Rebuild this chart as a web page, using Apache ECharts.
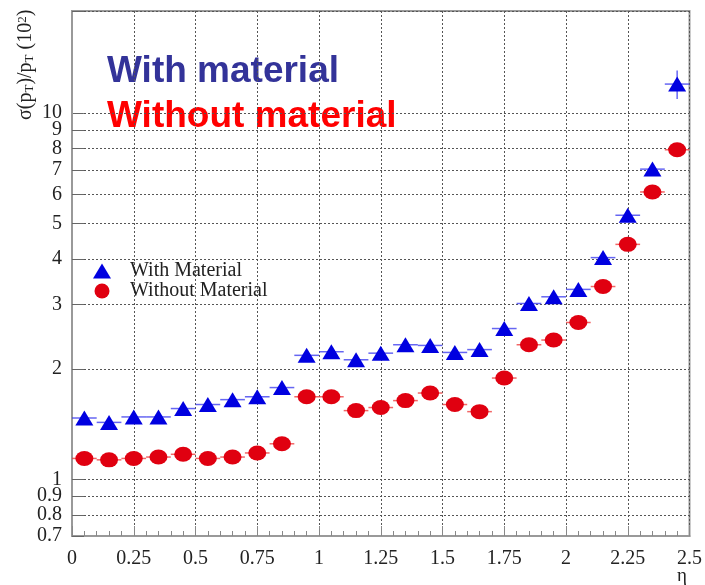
<!DOCTYPE html>
<html>
<head>
<meta charset="utf-8">
<script src="https://cdn.jsdelivr.net/npm/echarts@6/dist/echarts.min.js"></script>
<style>
  html, body { margin: 0; padding: 0; background: #fff; }
  #chart { width: 705px; height: 585px; }
</style>
</head>
<body>
<div id="chart"></div>
<script>
'use strict';

// eta bin centres
var eta = [0.05, 0.15, 0.25, 0.35, 0.45, 0.55, 0.65, 0.75, 0.85, 0.95, 1.05, 1.15, 1.25,
           1.35, 1.45, 1.55, 1.65, 1.75, 1.85, 1.95, 2.05, 2.15, 2.25, 2.35, 2.45];
var etaHalfWidth = 0.05;

// sigma(pT)/pT in units of 10^-2
var withMaterial = [1.47, 1.43, 1.48, 1.48, 1.56, 1.60, 1.65, 1.68, 1.78, 2.18, 2.23, 2.12, 2.21,
                    2.33, 2.32, 2.22, 2.26, 2.58, 3.02, 3.15, 3.30, 4.03, 5.26, 7.03, 12.0];
var withMaterialErr = [0, 0, 0, 0, 0, 0, 0, 0, 0, 0, 0, 0, 0,
                       0, 0, 0, 0, 0, 0, 0, 0, 0, 0, 0, 1.08];
var withoutMaterial = [1.14, 1.13, 1.14, 1.15, 1.17, 1.14, 1.15, 1.18, 1.25, 1.68, 1.68, 1.54, 1.57,
                       1.64, 1.72, 1.60, 1.53, 1.89, 2.33, 2.40, 2.68, 3.36, 4.38, 6.09, 7.94];
var withoutMaterialErr = [0, 0, 0, 0, 0, 0, 0, 0, 0, 0, 0, 0, 0,
                          0, 0, 0, 0, 0, 0, 0, 0, 0, 0, 0, 0];

var yMax = 19;
// the log axis drops the last custom value, so the axis max rides along at the end (no label)
var yTicks = [0.7, 0.8, 0.9, 1, 2, 3, 4, 5, 6, 7, 8, 9, yMax];
// 10 goes in as a markLine
var yTopTick = 10;

var BLUE = '#0000e0',
    RED = '#e00010',
    serif = 'Liberation Serif';

function pairs(ys, errs) {
    return eta.map(function (x, i) { return [x, ys[i], errs[i]]; });
}

// horizontal bin-width bars (and vertical error where there is one)
function errorBars(color) {
    return function (params, api) {
        var x = api.value(0), y = api.value(1), e = api.value(2);
        var l = api.coord([x - etaHalfWidth, y]),
            r = api.coord([x + etaHalfWidth, y]);
        var style = { stroke: color, lineWidth: 1.5, opacity: 0.75 };
        var children = [{ type: 'line', shape: { x1: l[0], y1: l[1], x2: r[0], y2: r[1] }, style: style }];
        if (e > 0) {
            var lo = api.coord([x, y - e]), hi = api.coord([x, y + e]);
            children.push({ type: 'line', shape: { x1: lo[0], y1: lo[1], x2: hi[0], y2: hi[1] }, style: style });
        }
        return { type: 'group', children: children };
    };
}

var chart = echarts.init(document.getElementById('chart'));

var gridLine = { show: true, lineStyle: { color: '#555', type: [2, 2], width: 1 } };
var axisLine = { show: true, lineStyle: { color: '#999', width: 2 } };

chart.setOption({
    animation: false,
    backgroundColor: '#fff',
    grid: {
        left: 72, right: 14, top: 11, bottom: 49,
        show: true, borderColor: '#999', borderWidth: 2
    },
    legend: {
        orient: 'vertical',
        left: 88, top: 256,
        itemWidth: 18, itemHeight: 15, itemGap: 0,
        textStyle: { fontFamily: serif, fontSize: 20, color: '#222', lineHeight: 18, padding: [0, 0, 0, 14] },
        data: ['With Material', 'Without Material']
    },
    xAxis: {
        type: 'value',
        min: 0, max: 2.5, interval: 0.25,
        axisLine: axisLine,
        axisTick: { inside: true, length: 10, lineStyle: { color: '#888', width: 1 } },
        minorTick: { show: true, splitNumber: 5, length: 5, lineStyle: { color: '#888' } },
        splitLine: gridLine,
        axisLabel: { fontFamily: serif, fontSize: 20, color: '#222', margin: 13 }
    },
    yAxis: {
        type: 'log',
        logBase: 10,
        min: 0.7, max: yMax,
        axisLine: axisLine,
        axisTick: { inside: true, length: 12, customValues: yTicks, lineStyle: { color: '#666', width: 1 } },
        splitLine: gridLine,
        axisLabel: {
            fontFamily: serif, fontSize: 20, lineHeight: 12, color: '#222', margin: 10,
            customValues: yTicks, hideOverlap: false,
            formatter: function (v) { return v > yTopTick ? '' : String(v); }
        }
    },
    graphic: [
        {
            type: 'text', left: 107, top: 53,
            style: { text: 'With material', fill: '#333399', font: 'bold 37px "Liberation Sans"' }
        },
        {
            type: 'text', left: 107, top: 98,
            style: { text: 'Without material', fill: '#ff0000', font: 'bold 37px "Liberation Sans"' }
        },
        {
            type: 'text', x: 16, y: 120, rotation: Math.PI / 2,
            style: {
                text: '{n|σ(p}{s|T}{n|)/p}{s|T}{n| (10}{u|2}{n|)}',
                fill: '#222',
                rich: {
                    n: { fontFamily: serif, fontSize: 20, verticalAlign: 'middle' },
                    s: { fontFamily: serif, fontSize: 13, verticalAlign: 'bottom' },
                    u: { fontFamily: serif, fontSize: 13, verticalAlign: 'top' }
                }
            }
        },
        {
            type: 'text', left: 677, top: 567,
            style: { text: 'η', fill: '#222', font: '19px "Liberation Serif"' }
        }
    ],
    series: [
        {
            type: 'custom', name: 'withErr', silent: true, z: 1,
            renderItem: errorBars('#3333ee'),
            data: pairs(withMaterial, withMaterialErr)
        },
        {
            type: 'custom', name: 'withoutErr', silent: true, z: 1,
            renderItem: errorBars('#ee3333'),
            data: pairs(withoutMaterial, withoutMaterialErr)
        },
        {
            name: 'With Material',
            type: 'scatter', z: 3,
            symbol: 'triangle', symbolSize: [18, 15],
            itemStyle: { color: BLUE, opacity: 1 },
            data: pairs(withMaterial, withMaterialErr),
            markLine: {
                silent: true, symbol: 'none', z: 0,
                data: [
                    {
                        yAxis: yTopTick,
                        lineStyle: gridLine.lineStyle,
                        label: {
                            show: true, position: 'start', distance: 10, formatter: String(yTopTick),
                            fontFamily: serif, fontSize: 20, lineHeight: 12, color: '#222'
                        }
                    },
                    [
                        { coord: [0, yTopTick], lineStyle: { color: '#666', width: 1, type: 'solid' }, label: { show: false } },
                        { coord: [0.048, yTopTick] }
                    ]
                ]
            }
        },
        {
            name: 'Without Material',
            type: 'scatter', z: 3,
            symbol: 'circle', symbolSize: [18, 15],
            itemStyle: { color: RED, opacity: 1 },
            data: pairs(withoutMaterial, withoutMaterialErr)
        }
    ]
});
</script>
</body>
</html>
